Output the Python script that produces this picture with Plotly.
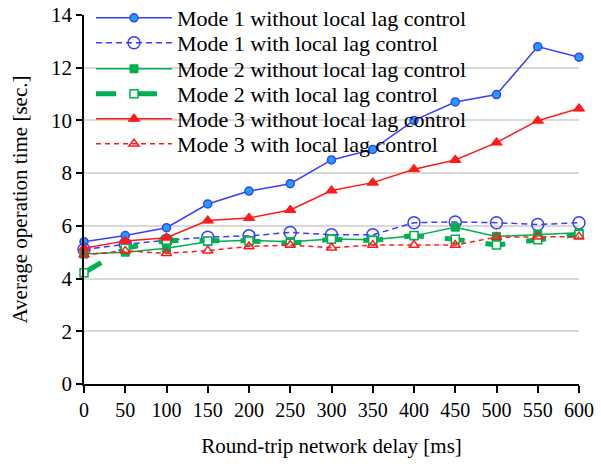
import plotly.graph_objects as go

delay = [0, 50, 100, 150, 200, 250, 300, 350, 400, 450, 500, 550, 600]

mode1_without = [5.4, 5.63, 5.93, 6.83, 7.32, 7.6, 8.5, 8.9, 10.0, 10.7, 10.98, 12.8, 12.4]
mode1_with = [5.1, 5.3, 5.45, 5.57, 5.62, 5.75, 5.66, 5.66, 6.12, 6.15, 6.12, 6.05, 6.12]
mode2_without = [4.93, 5.0, 5.15, 5.4, 5.45, 5.4, 5.5, 5.47, 5.62, 5.95, 5.6, 5.68, 5.74]
mode2_with = [4.22, 5.15, 5.45, 5.43, 5.43, 5.34, 5.49, 5.44, 5.63, 5.49, 5.27, 5.47, 5.68]
mode3_without = [5.15, 5.43, 5.55, 6.2, 6.3, 6.6, 7.34, 7.64, 8.15, 8.5, 9.16, 9.99, 10.45]
mode3_with = [4.9, 5.05, 4.96, 5.06, 5.22, 5.27, 5.17, 5.27, 5.27, 5.27, 5.57, 5.59, 5.59]

names = [
    "Mode 1 without local lag control",
    "Mode 1 with local lag control",
    "Mode 2 without local lag control",
    "Mode 2 with local lag control",
    "Mode 3 without local lag control",
    "Mode 3 with local lag control",
]

BLUE = "#3c3cff"
GREEN = "#00b050"
RED = "#ff1a1a"
FONT = "Times New Roman, Liberation Serif, DejaVu Serif, serif"

fig = go.Figure()

fig.add_trace(go.Scatter(
    x=delay, y=mode1_without, name=names[0], mode="lines+markers",
    line=dict(color=BLUE, width=1.5),
    marker=dict(symbol="circle", size=8, color="#1aa3ff", line=dict(color=BLUE, width=1.5)),
    cliponaxis=False, legend="legend"))
fig.add_trace(go.Scatter(
    x=delay, y=mode1_with, name=names[1], mode="lines+markers",
    line=dict(color=BLUE, width=1.5, dash="6px,4px"),
    marker=dict(symbol="circle", size=12, color="rgba(255,255,255,0)", line=dict(color=BLUE, width=1.5)),
    cliponaxis=False, legend="legend2"))
fig.add_trace(go.Scatter(
    x=delay, y=mode2_without, name=names[2], mode="lines+markers",
    line=dict(color=GREEN, width=1.5),
    marker=dict(symbol="square", size=8, color=GREEN, line=dict(color=GREEN, width=1)),
    cliponaxis=False, legend="legend3"))
fig.add_trace(go.Scatter(
    x=delay, y=mode2_with, name=names[3], mode="lines+markers",
    line=dict(color=GREEN, width=5, dash="20px,21px"),
    marker=dict(symbol="square", size=8, color="white", line=dict(color=GREEN, width=1.5)),
    cliponaxis=False, legend="legend4"))
fig.add_trace(go.Scatter(
    x=delay, y=mode3_without, name=names[4], mode="lines+markers",
    line=dict(color=RED, width=1.5),
    marker=dict(symbol="triangle-up", size=10, color=RED, line=dict(color=RED, width=1)),
    cliponaxis=False, legend="legend5"))
fig.add_trace(go.Scatter(
    x=delay, y=mode3_with, name=names[5], mode="lines+markers",
    line=dict(color=RED, width=1.5, dash="5px,4px"),
    marker=dict(symbol="triangle-up-open", size=9, color=RED, line=dict(color=RED, width=1.5)),
    cliponaxis=False, legend="legend6"))

L, R, T, B = 84, 22, 15, 84
W, H = 601, 468
ph = H - T - B
pw = W - L - R
rows = [18, 43, 69, 94, 119, 144]
legend_common = dict(
    x=7 / pw, xanchor="left", yanchor="middle",
    bgcolor="rgba(0,0,0,0)", borderwidth=0,
    font=dict(family=FONT, size=22, color="black"),
    itemwidth=76, tracegroupgap=0,
)
legends = {}
for i, r in enumerate(rows):
    key = "legend" if i == 0 else f"legend{i+1}"
    legends[key] = dict(legend_common, y=(H - B - r) / ph)

fig.update_layout(
    width=W, height=H,
    margin=dict(l=L, r=R, t=T, b=B, pad=0, autoexpand=False),
    paper_bgcolor="white", plot_bgcolor="white",
    font=dict(family=FONT, size=21, color="black"),
    showlegend=True,
    **legends,
    xaxis=dict(
        range=[0, 600], tickmode="array", tickvals=delay, ticktext=[str(d) for d in delay],
        showgrid=False, zeroline=False,
        showline=True, linecolor="black", linewidth=1.5,
        ticks="outside", ticklen=7, tickwidth=1.5, tickcolor="black",
        tickfont=dict(family=FONT, size=20, color="black"),
        title=dict(text="Round-trip network delay [ms]", font=dict(family=FONT, size=21), standoff=19),
    ),
    yaxis=dict(
        range=[0, 14], tickmode="array", tickvals=[0, 2, 4, 6, 8, 10, 12, 14],
        showgrid=True, gridcolor="#d9d9d9", gridwidth=1.5,
        zeroline=False,
        showline=True, linecolor="black", linewidth=1.5,
        ticks="outside", ticklen=6, tickwidth=1.5, tickcolor="black",
        tickfont=dict(family=FONT, size=21, color="black"),
        title=dict(text="Average operation time [sec.]", font=dict(family=FONT, size=21), standoff=18),
    ),
)

fig.write_html("out.html")
